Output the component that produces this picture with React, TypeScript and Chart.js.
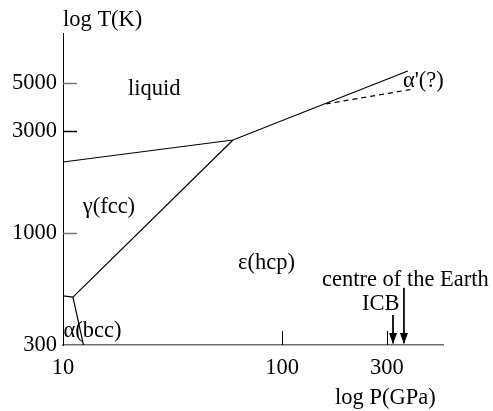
import { useEffect, useRef } from "react";
import { Chart, registerables } from "chart.js";

Chart.register(...registerables);

const FONT = '"Liberation Serif", "Times New Roman", Times, serif';
const FONT_SIZE = 22.5;

// axes (log-log)
const xRange = [10, 541];
const yRange = [300, 8570];
const xTickValues = [10, 100, 300];
const yTickValues = [300, 1000, 3000, 5000];
const xInnerTicks = [100, 300];
const yInnerTicks = [1000, 3000, 5000];
const yInnerTickColors = ["#777777", "#000000", "#777777"];

// phase boundaries: P (GPa), T (K)
const meltingP = [10, 59.6, 374];
const meltingT = [2143, 2715, 5698];
const alphaPrimeP = [158, 390];
const alphaPrimeT = [3997, 4681];
const gammaEpsP = [59.6, 11.1];
const gammaEpsT = [2715, 502];
const alphaGammaP = [10, 11.1];
const alphaGammaT = [509, 502];
const alphaEpsP = [11.1, 12.4];
const alphaEpsT = [502, 300];

// arrows (ICB, centre of the Earth)
const arrowP = [320, 359];
const arrowTopT = [414, 554];
const arrowTipT = [300, 300];

// text labels anchored in data coordinates (left, baseline)
const labelTexts = ["liquid", "α'(?)", "γ(fcc)", "ε(hcp)", "α(bcc)", "centre of the Earth", "ICB"];
const labelP = [19.8, 355, 12.3, 62.8, 10.05, 151.7, 230.9];
const labelT = [4403, 4798, 1239, 679, 327, 565, 437];

const pts = (P: number[], T: number[]) => P.map((p, i) => ({ x: p, y: T[i] }));

const overlayPlugin = {
  id: "overlay",
  afterDraw(chart: any) {
    const { ctx, chartArea } = chart;
    const xs = chart.scales.x;
    const ys = chart.scales.y;
    ctx.save();
    // inward y ticks
    ctx.lineWidth = 1.5;
    yInnerTicks.forEach((v, i) => {
      const y = Math.round(ys.getPixelForValue(v)) + 0.5;
      ctx.strokeStyle = yInnerTickColors[i];
      ctx.beginPath();
      ctx.moveTo(chartArea.left, y);
      ctx.lineTo(chartArea.left + 14, y);
      ctx.stroke();
    });
    // inward x ticks
    ctx.lineWidth = 1;
    ctx.strokeStyle = "#000";
    xInnerTicks.forEach((v) => {
      const x = Math.round(xs.getPixelForValue(v)) + 0.5;
      ctx.beginPath();
      ctx.moveTo(x, chartArea.bottom);
      ctx.lineTo(x, chartArea.bottom - 14);
      ctx.stroke();
    });
    // arrowheads
    ctx.fillStyle = "#000";
    arrowP.forEach((p, i) => {
      const x = xs.getPixelForValue(p);
      const yTip = ys.getPixelForValue(arrowTipT[i]) - 1;
      ctx.beginPath();
      ctx.moveTo(x, yTip);
      ctx.lineTo(x - 4, yTip - 11);
      ctx.lineTo(x + 4, yTip - 11);
      ctx.closePath();
      ctx.fill();
    });
    // labels
    ctx.font = `${FONT_SIZE}px ${FONT}`;
    ctx.fillStyle = "#000";
    ctx.textAlign = "left";
    ctx.textBaseline = "alphabetic";
    labelTexts.forEach((t, i) => {
      ctx.fillText(t, xs.getPixelForValue(labelP[i]), ys.getPixelForValue(labelT[i]));
    });
    // axis titles
    ctx.fillText("log T(K)", chartArea.left, chartArea.top - 7);
    ctx.fillText("log P(GPa)", 335, 404);
    ctx.restore();
  },
};

export default function App() {
  const ref = useRef<HTMLCanvasElement | null>(null);
  useEffect(() => {
    if (!ref.current) return;
    const line = (P: number[], T: number[], dash: number[] = []) => ({
      data: pts(P, T),
      showLine: true,
      borderColor: "#000",
      borderWidth: 1.2,
      borderDash: dash,
      pointRadius: 0,
      fill: false,
      tension: 0,
    });
    const chart = new Chart(ref.current, {
      type: "scatter",
      data: {
        datasets: [
          line(meltingP, meltingT),
          line(alphaPrimeP, alphaPrimeT, [5, 4]),
          line(gammaEpsP, gammaEpsT),
          line(alphaGammaP, alphaGammaT),
          line(alphaEpsP, alphaEpsT),
          ...arrowP.map((p, i) => ({ ...line([p, p], [arrowTopT[i], arrowTipT[i] * 1.02]), borderWidth: 1 })),
        ],
      },
      options: {
        animation: false,
        responsive: false,
        devicePixelRatio: 1,
        layout: { padding: { top: 33, right: 50, left: 0, bottom: 0 } },
        plugins: { legend: { display: false }, tooltip: { enabled: false } },
        scales: {
          x: {
            type: "logarithmic",
            position: "bottom",
            min: xRange[0],
            max: xRange[1],
            bounds: "data",
            afterBuildTicks: (s: any) => {
              s.ticks = xTickValues.map((v) => ({ value: v }));
            },
            afterFit: (s: any) => {
              s.height = 66;
            },
            ticks: {
              callback: (v: any) => String(v),
              font: { family: FONT, size: FONT_SIZE },
              color: "#000",
              padding: 10,
              maxRotation: 0,
              autoSkip: false,
            },
            grid: { display: false, drawTicks: false },
            border: { display: true, color: "#6e6e6e", width: 1.5 },
          },
          y: {
            type: "logarithmic",
            position: "left",
            min: yRange[0],
            max: yRange[1],
            bounds: "data",
            afterBuildTicks: (s: any) => {
              s.ticks = yTickValues.map((v) => ({ value: v }));
            },
            afterFit: (s: any) => {
              s.width = 63;
            },
            ticks: {
              callback: (v: any) => String(v),
              font: { family: FONT, size: FONT_SIZE },
              color: "#000",
              padding: 6,
              autoSkip: false,
            },
            grid: { display: false, drawTicks: false },
            border: { display: true, color: "#000", width: 1 },
          },
        },
      },
      plugins: [overlayPlugin],
    } as any);
    return () => chart.destroy();
  }, []);
  return (
    <div style={{ position: "fixed", left: 0, top: 0, width: 493, height: 411, background: "#fff" }}>
      <canvas ref={ref} width={493} height={411} style={{ display: "block" }} />
    </div>
  );
}
